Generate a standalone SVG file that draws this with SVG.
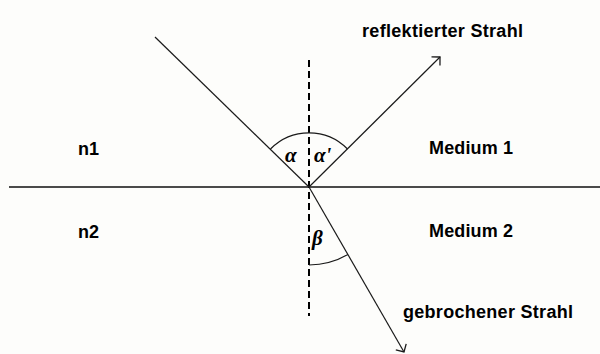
<svg xmlns="http://www.w3.org/2000/svg" width="600" height="354" viewBox="0 0 600 354">
<style>
.lbl{font-family:"Liberation Sans",Arial,sans-serif;font-weight:bold;font-size:18px;fill:#000}
.gr{font-family:"Liberation Serif","Times New Roman",serif;font-weight:bold;font-style:italic;font-size:21px;fill:#000}
.ray{stroke:#1a1a1a;stroke-width:1.2;fill:none}
.arc{stroke:#1a1a1a;stroke-width:1.2;fill:none}
</style>
<defs>
<marker id="arr" markerUnits="userSpaceOnUse" markerWidth="20" markerHeight="20" refX="0" refY="0" viewBox="-10 -10 20 20" orient="auto" overflow="visible">
<path d="M -6 -6 L 0 0 L -6 6" fill="none" stroke="#1a1a1a" stroke-width="1.3"/>
</marker>
</defs>
<rect width="600" height="354" fill="#fdfdfb"/>
<g id="boundary">
<line x1="9" y1="187" x2="600" y2="187" stroke="#4a4a4a" stroke-width="2"/>
</g>
<g id="normal">
<line x1="309" y1="60" x2="309" y2="316" stroke="#000" stroke-width="2" stroke-dasharray="7 4"/>
</g>
<g id="connectors">
<line class="ray" x1="155" y1="37" x2="309" y2="187"/>
<line class="ray" x1="309" y1="187" x2="440" y2="57" marker-end="url(#arr)"/>
<line class="ray" x1="309" y1="187" x2="404" y2="352" marker-end="url(#arr)"/>
</g>
<g id="angles">
<path class="arc" d="M 270.5 149 A 54 54 0 0 1 347.5 149"/>
<path class="arc" d="M 309 265 A 78 78 0 0 0 347.9 254.6"/>
<text class="gr" x="285" y="162">α</text>
<text class="gr" x="314" y="162">α'</text>
<text class="gr" x="312" y="245">β</text>
</g>
<g id="labels">
<text class="lbl" x="362" y="37" textLength="161">reflektierter Strahl</text>
<text class="lbl" x="78" y="155">n1</text>
<text class="lbl" x="78" y="238">n2</text>
<text class="lbl" x="429" y="154" textLength="84">Medium 1</text>
<text class="lbl" x="429" y="237" textLength="84">Medium 2</text>
<text class="lbl" x="403" y="318" textLength="170">gebrochener Strahl</text>
</g>
</svg>
